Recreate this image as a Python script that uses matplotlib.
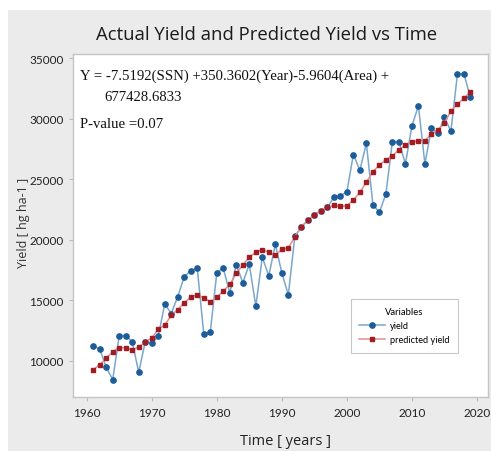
import matplotlib
matplotlib.use("Agg")
import matplotlib.pyplot as plt
from matplotlib.patches import Rectangle

years = list(range(1961, 2020))

yield_actual = [
    11240, 10970, 9460, 8430, 12070, 12070, 11570, 9040, 11570, 11440,
    12020, 14690, 13900, 15300, 16940, 17440, 17640, 12210, 12370, 17250,
    17640, 15600, 17930, 16450, 17970, 14500, 18550, 17020, 19620, 17270,
    15430, 20280, 21050, 21610, 22080, 22400, 22680, 23500, 23650, 23940,
    27040, 25740, 27970, 22910, 22260, 23780, 28100, 28100, 26260, 29400,
    31070, 26260, 29230, 28780, 30110, 28970, 33690, 33690, 31770,
]

yield_predicted = [
    9260, 9670, 10200, 10740, 11070, 11070, 10910, 11110, 11570, 11850,
    12620, 12950, 13750, 14230, 14790, 15240, 15470, 15170, 14880, 15240,
    15760, 16300, 17210, 17910, 18550, 18980, 19170, 18980, 18710, 19210,
    19330, 20240, 21090, 21610, 22080, 22400, 22700, 22830, 22760, 22810,
    23280, 23920, 24770, 25620, 26170, 26610, 26940, 27440, 27830, 28100,
    28180, 28180, 28740, 29070, 29640, 30640, 31210, 31680, 32230,
]

x_ticks = [1960, 1970, 1980, 1990, 2000, 2010, 2020]
y_ticks = [10000, 15000, 20000, 25000, 30000, 35000]

TICK_FONT = ["Liberation Sans Narrow", "Lato", "DejaVu Sans"]

W, H = 491, 452
fig = plt.figure(figsize=(W / 100, H / 100), dpi=100, facecolor="white")
# grey panel background (white strip at the top / left edge)
bg = Rectangle((8 / W, 0), 1, 1 - 11 / H, transform=fig.transFigure,
               facecolor="#ebebeb", edgecolor="none", zorder=-10)
fig.patches.append(bg)

ax = fig.add_axes([73.3 / W, 1 - 398 / H, (488 - 73.3) / W, (398 - 55) / H])
ax.set_zorder(5)
ax.set_facecolor("white")

ax.plot(years, yield_actual, color="#7aa7cc", lw=1.1, marker="o", ms=3.8,
        mfc="#1b5c99", mec="#1b5c99", label="yield", zorder=3)
ax.plot(years, yield_predicted, color="#e29090", lw=1.1, marker="s", ms=3.5,
        mfc="#a31c22", mec="#a31c22", label="predicted yield", zorder=4)

ax.set_xlim(1957.94, 2021.7)
ax.set_ylim(7000, 35350)
ax.set_xticks(x_ticks)
ax.set_yticks(y_ticks)
ax.set_xticklabels([str(t) for t in x_ticks], fontsize=8.5, family=TICK_FONT, color="#222222")
ax.set_yticklabels([str(t) for t in y_ticks], fontsize=8.5, family=TICK_FONT, color="#222222")
ax.tick_params(axis="both", length=3, color="#bbbbbb", width=0.8, pad=4)
for s in ax.spines.values():
    s.set_color("#c4c4c4")
    s.set_linewidth(1.0)

fig.text(267 / W, 1 - 35 / H, "Actual Yield and Predicted Yield vs Time",
         ha="center", va="center", fontsize=13.3, family="Open Sans", color="#1a1a1a", zorder=6)
fig.text(286 / W, 1 - 442 / H, "Time [ years ]", ha="center", va="center",
         fontsize=10.5, family="Open Sans", color="#222222", zorder=6)
fig.text(24 / W, 1 - 223 / H, "Yield [ hg ha-1 ]", ha="center", va="center",
         rotation=90, fontsize=9, family="Open Sans", color="#333333", zorder=6)

EQ_SIZE = 10.6
fig.text(80.5 / W, 1 - 76 / H, "Y = -7.5192(SSN) +350.3602(Year)-5.9604(Area) +",
         ha="left", va="center", fontsize=EQ_SIZE, family="Liberation Serif", color="#111111", zorder=7)
fig.text(104 / W, 1 - 97.5 / H, "677428.6833",
         ha="left", va="center", fontsize=EQ_SIZE, family="Liberation Serif", color="#111111", zorder=7)
fig.text(80.5 / W, 1 - 124 / H, "P-value =0.07",
         ha="left", va="center", fontsize=EQ_SIZE, family="Liberation Serif", color="#111111", zorder=7)

leg = ax.legend(title="Variables", loc="upper left",
                bbox_to_anchor=((350.7 - 73.3) / (488 - 73.3), (398 - 300) / (398 - 55)),
                prop={"family": "Lato", "size": 6.6}, title_fontproperties={"family": "Lato", "size": 6.8},
                fancybox=False, edgecolor="#c8c8c8", framealpha=1, handlelength=2.8,
                borderpad=0.9, labelspacing=0.55, handletextpad=0.6, borderaxespad=0)
leg.get_frame().set_linewidth(0.8)

fig.savefig("out.png", dpi=100, facecolor=fig.get_facecolor())
